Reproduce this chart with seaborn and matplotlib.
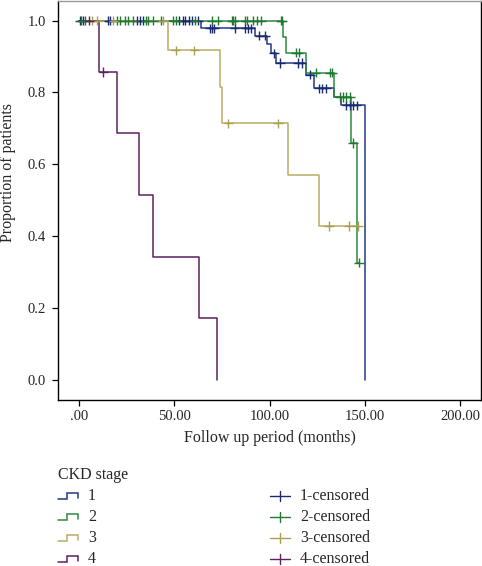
import numpy as np
import pandas as pd
import matplotlib
matplotlib.use("Agg")
import matplotlib.pyplot as plt
import seaborn as sns

# ---------------- data ----------------
stages = ["1", "2", "3", "4"]

# event times (months) and survival proportion after each event
s1_event_t = [64.0, 92.5, 98.6, 100.6, 103.4, 119.1, 123.5, 134.0, 137.5, 150.1]
s1_event_s = [0.979, 0.958, 0.935, 0.909, 0.882, 0.850, 0.812, 0.788, 0.764, 0.0]
s1_end = 150.1
s1_cens = [0.5, 1.9, 15.4, 16.3, 30.3, 32.0, 33.4, 52.6, 54.4, 55.6, 57.9, 59.1, 62.6,
           68.8, 70.0, 70.9, 81.8, 87.1, 88.5, 90.1, 94.6, 97.9, 102.3, 105.5, 115.0,
           116.8, 121.2, 126.0, 127.8, 129.9, 140.4, 142.2, 143.6, 145.7]

s2_event_t = [107.3, 108.5, 119.2, 134.0, 143.0, 146.0]
s2_event_s = [0.955, 0.911, 0.855, 0.787, 0.659, 0.326]
s2_end = 147.0
s2_cens = [1.0, 3.1, 20.1, 21.5, 24.1, 25.9, 28.5, 35.2, 36.4, 39.0, 42.9, 49.5, 50.9,
           60.8, 69.6, 72.8, 80.1, 81.0, 81.8, 87.1, 88.0, 91.5, 93.2, 95.8, 106.0,
           106.5, 113.9, 115.3, 124.2, 131.7, 132.9, 136.9, 138.7, 140.4, 142.2,
           143.9, 147.0]

s3_event_t = [46.9, 74.0, 75.0, 109.5, 125.8]
s3_event_s = [0.917, 0.815, 0.714, 0.571, 0.428]
s3_end = 146.4
s3_cens = [6.6, 9.6, 18.0, 44.0, 50.7, 60.5, 78.4, 104.4, 131.3, 141.7, 146.4]

s4_event_t = [10.7, 20.1, 31.5, 38.6, 63.0, 72.6]
s4_event_s = [0.857, 0.686, 0.514, 0.343, 0.171, 0.0]
s4_end = 72.6
s4_cens = [5.4, 12.8]

x_ticks = [0, 50, 100, 150, 200]
x_tick_labels = [".00", "50.00", "100.00", "150.00", "200.00"]
y_ticks = [0.0, 0.2, 0.4, 0.6, 0.8, 1.0]
y_tick_labels = ["0.0", "0.2", "0.4", "0.6", "0.8", "1.0"]

line_colors = {"1": "#25388a", "2": "#2e8a3e", "3": "#b8ae62", "4": "#5c2160"}
cens_colors = {"1": "#1b2a70", "2": "#1f7a30", "3": "#aaa052", "4": "#5c2160"}

# ---------------- build tables ----------------
groups = {
    "1": (s1_event_t, s1_event_s, s1_end, s1_cens),
    "2": (s2_event_t, s2_event_s, s2_end, s2_cens),
    "3": (s3_event_t, s3_event_s, s3_end, s3_cens),
    "4": (s4_event_t, s4_event_s, s4_end, s4_cens),
}
line_rows, cens_rows = [], []
for g, (et, es, end, cens) in groups.items():
    xs = [0.0] + list(et)
    ys = [1.0] + list(es)
    if end > et[-1]:
        xs.append(end)
        ys.append(es[-1])
    for i, (x, y) in enumerate(zip(xs, ys)):
        line_rows.append({"time": x, "surv": y, "stage": g, "order": i})
    et_arr = np.array(et)
    allv = np.array([1.0] + list(es))
    for c in cens:
        idx = np.searchsorted(et_arr, c, side="right")
        cens_rows.append({"time": c, "surv": allv[idx], "stage": g})
df_lines = pd.DataFrame(line_rows)
df_cens = pd.DataFrame(cens_rows)

# ---------------- figure ----------------
sns.set_style("ticks")
plt.rcParams["font.family"] = ["Liberation Serif", "DejaVu Serif"]

W, H = 482, 566
fig = plt.figure(figsize=(W / 100, H / 100), dpi=100)
ax = fig.add_axes([58 / W, 1 - 400 / H, (481 - 58) / W, 399.5 / H])

sns.lineplot(data=df_lines, x="time", y="surv", hue="stage", palette=line_colors,
             estimator=None, sort=False, drawstyle="steps-post", legend=False,
             linewidth=1.1, ax=ax)
sns.scatterplot(data=df_cens, x="time", y="surv", hue="stage", palette=cens_colors,
                marker="+", s=45, linewidth=1.0, legend=False, ax=ax, zorder=3)

ax.set_xlim(-11, 211)
ax.set_ylim(-0.056, 1.056)
ax.set_xticks(x_ticks)
ax.set_xticklabels(x_tick_labels)
ax.set_yticks(y_ticks)
ax.set_yticklabels(y_tick_labels)
ax.tick_params(axis="both", labelsize=10.5, length=4.5, width=0.9, color="black",
               pad=3)
ax.tick_params(axis="y", pad=4)
for sp in ax.spines.values():
    sp.set_color("black")
    sp.set_linewidth(1.0)
ax.spines["top"].set_color("#999999")
ax.set_xlabel("Follow up period (months)", fontsize=11.5)
ax.set_ylabel("Proportion of patients", fontsize=11.5)
ax.xaxis.set_label_coords(0.5, -0.075)
ax.yaxis.set_label_coords(-0.1, 0.57)

# ---------------- legend (drawn below the plot, in pixel coords) ----------------
lax = fig.add_axes([0, 0, 1, 1], facecolor="none")
lax.set_xlim(0, W)
lax.set_ylim(H, 0)
lax.axis("off")
lax.text(58, 475, "CKD stage", fontsize=11.5, va="center", ha="left")
row_y = [496, 517, 538, 559]
for g, yy in zip(stages, row_y):
    b = yy + 3
    lax.plot([58, 67, 67, 78, 78], [b, b, b - 6, b - 6, b - 1.5],
             color=line_colors[g], lw=1.1, solid_joinstyle="miter")
    lax.text(88, yy, g, fontsize=11.5, va="center", ha="left")
    lax.plot([270, 290], [yy, yy], color=cens_colors[g], lw=1.0)
    lax.plot([280, 280], [yy - 5, yy + 5], color=cens_colors[g], lw=1.0)
    lax.text(300, yy, f"{g}-censored", fontsize=11.5, va="center", ha="left")

fig.savefig("out.png", dpi=100)
